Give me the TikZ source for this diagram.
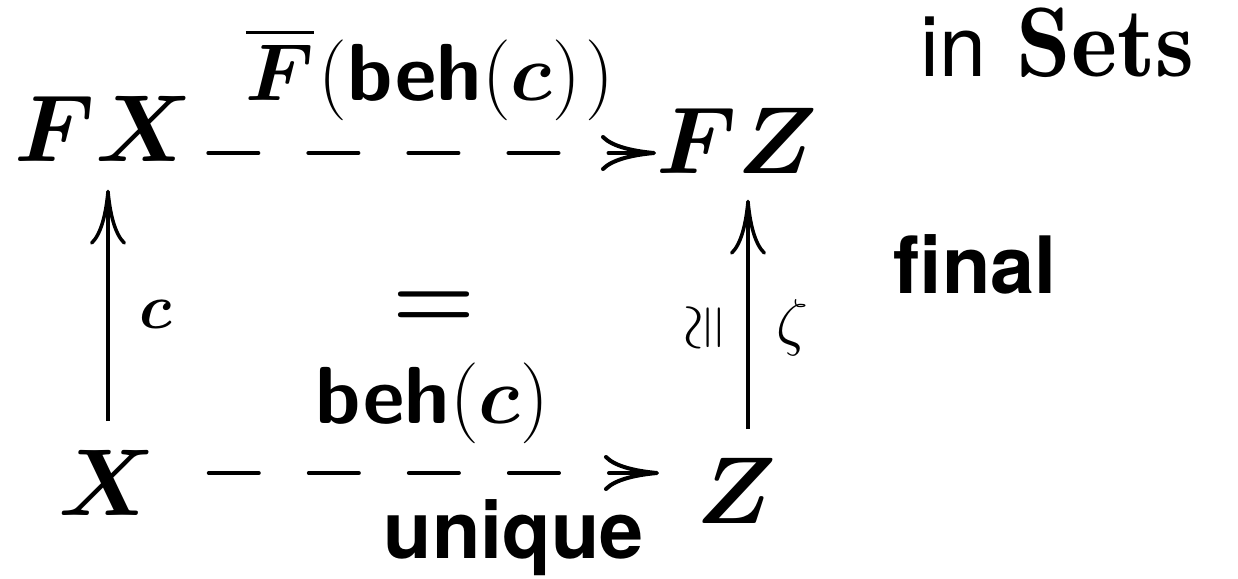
\documentclass[tikz,border=0pt]{standalone}
\usepackage{fix-cm}
\usepackage{amsmath}
\usepackage{fontspec}
\usepackage{bm}
\newfontfamily\helv{TeX Gyre Heros}
\usetikzlibrary{arrows.meta}

\begin{document}
\begin{tikzpicture}[x=0.01cm,y=-0.01cm,
  obj/.style={inner sep=0pt,font=\fontsize{27}{32}\selectfont},
  lbl/.style={inner sep=0pt,font=\fontsize{23}{27}\selectfont},
  sml/.style={inner sep=0pt,font=\fontsize{18}{22}\selectfont},
  wrd/.style={inner sep=0pt,font=\fontsize{22.5}{27}\selectfont\helv\bfseries},
  arr/.style={line width=0.035cm,-{Computer Modern Rightarrow[length=0.55cm,width=0.36cm]}},
  darr/.style={arr,line width=0.04cm,line cap=round,dash pattern=on 0.5cm off 0.5cm}]
  \useasboundingbox (0,0) rectangle (1238,578);
  \node[obj,anchor=base west] (FX) at (14,161) {$\bm{FX}$};
  \node[obj,anchor=base west] (FZ) at (656,173) {$\bm{FZ}$};
  \node[obj,anchor=base west] (X) at (58,515) {$\bm{X}$};
  \node[obj,anchor=base west] (Z) at (696,523) {$\bm{Z}$};
  \coordinate (trow) at (0,153); \coordinate (brow) at (0,473);
  \coordinate (lcol) at (108,0); \coordinate (rcol) at (748,0);
  \draw[darr,shorten <=0.15cm] (FX.east |- trow) -- (FZ.west |- trow);
  \draw[darr,shorten <=0.52cm,shorten >=0.37cm] (X.east |- brow) -- (Z.west |- brow);
  \draw[arr,shorten <=0.28cm,shorten >=0.28cm] (X.north -| lcol) -- (FX.south -| lcol);
  \draw[arr,shorten <=0.28cm,shorten >=0.26cm] (Z.north -| rcol) -- (FZ.south -| rcol);
  \node[lbl,anchor=base] (fbeh) at (430,100) {$\overline{\bm{F}}\mkern1mu(\textsf{\textbf{beh}}(\bm{c})\mkern1mu)$};
  \node[sml,anchor=base west] (c) at (139,328) {$\bm{c}$};
  \node[obj] (eq) at (434,310) {$\bm{=}$};
  \node[lbl,anchor=base west] (beh) at (315,423) {$\textsf{\textbf{beh}}(\bm{c})$};
  \node[wrd,anchor=base west] (uniq) at (383,558) {unique};
  \node[sml,rotate=90] (iso) at (708,328) {$\cong$};
  \node[sml,anchor=base west] (zeta) at (776,343) {$\zeta$};
  \node[wrd,anchor=base west] (fin) at (893,293) {final};
  \node[inner sep=0pt,anchor=base west] (cat) at (920,76)
    {\fontsize{24}{28}\selectfont\helv in\hspace{0.3cm}\fontsize{28}{33}\selectfont$\mathbf{Sets}$};
\end{tikzpicture}
\end{document}
